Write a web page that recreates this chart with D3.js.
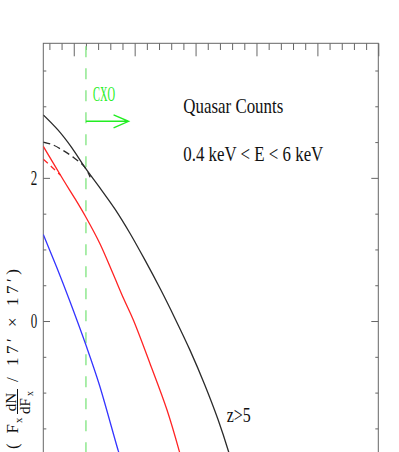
<!DOCTYPE html>
<html>
<head>
<meta charset="utf-8">
<script src="https://cdn.jsdelivr.net/npm/d3@7"></script>
<style>
  body { margin: 0; background: #fff; }
  text { font-family: "Liberation Serif", "DejaVu Serif", serif; }
</style>
</head>
<body>
<div id="chart"></div>
<script>
// log flux (x) vs log counts (y)
var blackX = [-16.5, -16.26, -16.03, -15.82, -15.57, -15.32, -15.08, -14.83, -14.58, -14.34, -14.09, -13.85, -13.63, -13.46, -13.42];
var blackY = [2.88, 2.67, 2.42, 2.15, 1.86, 1.56, 1.23, 0.85, 0.45, 0.04, -0.41, -0.89, -1.38, -1.82, -1.94];
var blackDashX = [-16.5, -16.34, -16.17, -16.01, -15.82, -15.73];
var blackDashY = [2.50, 2.46, 2.38, 2.29, 2.15, 2.01];
var redX = [-16.5, -16.17, -15.98, -15.8, -15.57, -15.36, -15.18, -15.02, -14.75, -14.47, -14.27, -14.23];
var redY = [2.44, 1.97, 1.71, 1.45, 1.08, 0.67, 0.31, 0.01, -0.59, -1.24, -1.81, -1.94];
var redDashX = [-16.5, -16.37, -16.22];
var redDashY = [2.26, 2.16, 2.04];
var blueX = [-16.5, -16.28, -16.07, -15.79, -15.58, -15.27, -15.22];
var blueY = [1.21, 0.75, 0.29, -0.36, -0.89, -1.81, -1.94];
var cxoX = -15.8;
var arrowX = [-15.8, -15.1];
var arrowY = 2.79;
var yMajorTicks = [-2, 0, 2];
var yTickLabels = [0, 2];

var margin = {top: 43.3, left: 43.3};
var width = 335, height = 435.2;

var xScale = d3.scaleLinear().domain([-16.5, -11]).range([0, width]);
var yScale = d3.scaleLinear().domain([-2.2, 3.88]).range([height, 0]);

var svg = d3.select("#chart").append("svg")
    .attr("width", 399).attr("height", 452);

svg.append("defs").append("clipPath").attr("id", "clip")
   .append("rect").attr("width", width).attr("height", height);

var plot = svg.append("g")
    .attr("transform", "translate(" + margin.left + "," + margin.top + ")");

var xMajor = d3.range(-16, -10.9, 1);
var xMinor = d3.range(-16.4, -10.95, 0.2).filter(function(v) { return Math.abs(v - Math.round(v)) > 0.01; });
var yMinor = d3.range(-2, 3.9, 0.5).filter(function(v) { return v % 2 !== 0; });

function tidy(g) {
  g.select(".domain").remove();
  g.selectAll(".tick line").attr("stroke", "#666");
}

plot.append("g").call(d3.axisTop(xScale).tickValues(xMajor).tickSize(-13).tickFormat("")).call(tidy);
plot.append("g").call(d3.axisTop(xScale).tickValues(xMinor).tickSize(-6.7).tickFormat("")).call(tidy);
plot.append("g").attr("transform", "translate(0," + height + ")")
    .call(d3.axisBottom(xScale).tickValues(xMajor).tickSize(-13).tickFormat("")).call(tidy);

plot.append("g").call(d3.axisLeft(yScale).tickValues(yMajorTicks).tickSize(-6.7).tickFormat("")).call(tidy);
var yAx = plot.append("g").call(d3.axisLeft(yScale).tickValues(yTickLabels).tickSize(0).tickPadding(6).tickFormat(d3.format("d"))).call(tidy);
yAx.selectAll("text")
   .style("font-family", "Liberation Serif")
   .attr("font-size", 21).attr("fill", "#111")
   .attr("textLength", 6.5).attr("lengthAdjust", "spacingAndGlyphs");
plot.append("g").call(d3.axisLeft(yScale).tickValues(yMinor).tickSize(-3).tickFormat("")).call(tidy);
plot.append("g").attr("transform", "translate(" + width + ",0)")
    .call(d3.axisRight(yScale).tickValues(yMajorTicks).tickSize(-7).tickFormat("")).call(tidy);
plot.append("g").attr("transform", "translate(" + width + ",0)")
    .call(d3.axisRight(yScale).tickValues(yMinor).tickSize(-3).tickFormat("")).call(tidy);

plot.append("rect").attr("width", width).attr("height", height)
    .attr("fill", "none").attr("stroke", "#666").attr("stroke-width", 1);

// CXO limit
plot.append("line")
    .attr("x1", xScale(cxoX)).attr("x2", xScale(cxoX))
    .attr("y1", 0).attr("y2", height)
    .attr("stroke", "#8fe88f").attr("stroke-width", 1.5)
    .attr("stroke-dasharray", "11,11").attr("stroke-dashoffset", -3);

var line = d3.line()
    .x(function(d) { return xScale(d[0]); })
    .y(function(d) { return yScale(d[1]); })
    .curve(d3.curveCatmullRom.alpha(0.5));

var curves = plot.append("g").attr("clip-path", "url(#clip)");
function drawCurve(xs, ys, color, dash) {
  curves.append("path")
      .datum(d3.zip(xs, ys))
      .attr("d", line)
      .attr("fill", "none")
      .attr("stroke", color)
      .attr("stroke-width", 1.3)
      .attr("stroke-dasharray", dash);
}
drawCurve(blackX, blackY, "#2b2b2b", null);
drawCurve(blackDashX, blackDashY, "#2b2b2b", "7,4");
drawCurve(redX, redY, "#ff2424", null);
drawCurve(redDashX, redDashY, "#ff2424", "6,4");
drawCurve(blueX, blueY, "#3434ff", null);

// arrow
var ay = yScale(arrowY), ax0 = xScale(arrowX[0]), ax1 = xScale(arrowX[1]);
plot.append("path")
    .attr("d", "M" + ax0 + "," + ay + "H" + ax1 + "M" + (ax1 - 15) + "," + (ay - 6.5) + "L" + ax1 + "," + ay + "L" + (ax1 - 15) + "," + (ay + 6.5))
    .attr("fill", "none").attr("stroke", "#22ee22").attr("stroke-width", 1.4);

function label(txt, x, y, size, len, color) {
  svg.append("text")
     .attr("x", x).attr("y", y)
     .attr("font-size", size)
     .attr("fill", color || "#111")
     .attr("textLength", len).attr("lengthAdjust", "spacingAndGlyphs")
     .text(txt);
}
label("CXO", 93, 101, 22, 22, "#22ee22");
label("Quasar Counts", 183.3, 113.3, 22, 100);
label("0.4 keV < E < 6 keV", 183.3, 160.7, 22, 140);
label("z>5", 226.7, 421.7, 22, 24);

// rotated y label
var yl = svg.append("g").attr("transform", "translate(18,450) rotate(-90)");
function ytext(txt, x, y, size, anchor) {
  return yl.append("text").attr("x", x).attr("y", y).attr("font-size", size)
           .attr("fill", "#111").attr("text-anchor", anchor || "start").text(txt);
}
ytext("(F", 1, 0, 17).attr("textLength", 25).attr("lengthAdjust", "spacing");
ytext("x", 27, 4, 11);
ytext("dN", 48, -2, 15, "middle");
yl.append("line").attr("x1", 36).attr("x2", 61).attr("y1", -0.5).attr("y2", -0.5)
  .attr("stroke", "#111").attr("stroke-width", 1);
ytext("dF", 36, 11.5, 15);
ytext("x", 54, 14.5, 10);
ytext("/", 68, 0, 17);
ytext("17′ × 17′)", 84, 0, 17).attr("textLength", 97).attr("lengthAdjust", "spacing");
</script>
</body>
</html>
